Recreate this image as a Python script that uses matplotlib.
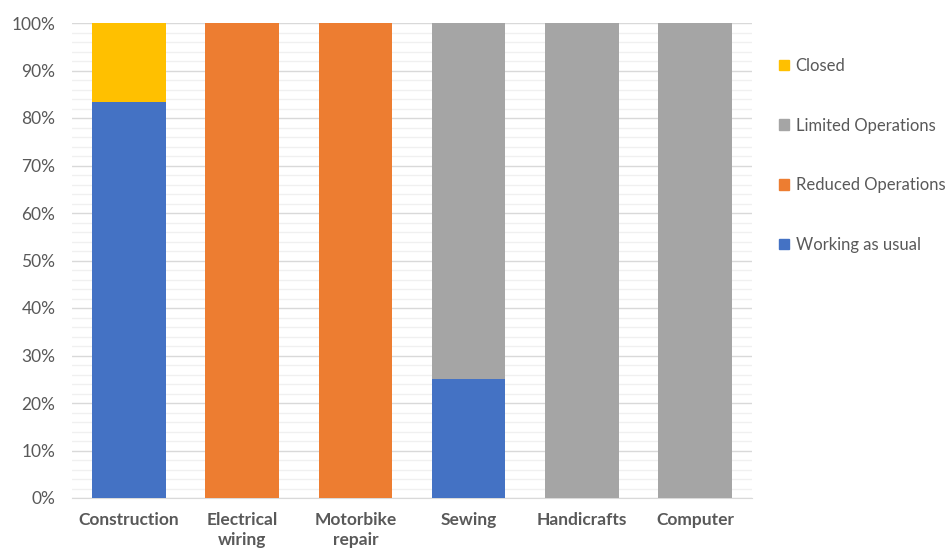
import numpy as np
import matplotlib.pyplot as plt
from matplotlib.ticker import MultipleLocator, PercentFormatter
from matplotlib.patches import Patch

# Share of businesses per trade (percent)
trades = ["Construction", "Electrical\nwiring", "Motorbike\nrepair", "Sewing", "Handicrafts", "Computer"]
working = [83.3, 0, 0, 25, 0, 0]
reduced = [0, 100, 100, 0, 0, 0]
limited = [0, 0, 0, 75, 100, 100]
closed = [16.7, 0, 0, 0, 0, 0]

series_names = ["Working as usual", "Reduced Operations", "Limited Operations", "Closed"]
series_colors = ["#4472C4", "#ED7D31", "#A5A5A5", "#FFC000"]

plt.rcParams['font.family'] = ['Lato', 'DejaVu Sans']

fig = plt.figure(figsize=(9.53, 5.56), dpi=100)
ax = fig.add_axes([72 / 953, 1 - 498 / 556, 680 / 953, 475 / 556])

x = np.arange(len(trades))
bottom = np.zeros(len(trades))
for vals, name, col in zip([working, reduced, limited, closed], series_names, series_colors):
    vals = np.asarray(vals, dtype=float)
    ax.bar(x, vals, width=0.65, bottom=bottom, color=col, label=name, zorder=3)
    bottom += vals

ax.set_xlim(-0.5, len(trades) - 0.5)
ax.set_ylim(0, 100)
ax.yaxis.set_major_locator(MultipleLocator(10))
ax.yaxis.set_minor_locator(MultipleLocator(2))
ax.yaxis.set_major_formatter(PercentFormatter(decimals=0))
ax.grid(axis='y', which='major', color='#D9D9D9', linewidth=1.0, zorder=0)
ax.grid(axis='y', which='minor', color='#F0F0F0', linewidth=1.0, zorder=0)

for s in ['top', 'right', 'left']:
    ax.spines[s].set_visible(False)
ax.spines['bottom'].set_color('#D9D9D9')
ax.tick_params(axis='both', which='both', length=0)
ax.tick_params(axis='y', labelsize=12.5, labelcolor='#595959', pad=12)

ax.set_xticks(x)
ax.set_xticklabels(trades, fontsize=12.5, fontweight='bold', color='#595959', linespacing=1.3)
ax.tick_params(axis='x', pad=10)

handles = [Patch(color=c) for c in series_colors][::-1]
labels = series_names[::-1]
fig.legend(handles, labels, loc='upper left', bbox_to_anchor=(764 / 953, 1 - 43 / 556),
           frameon=False, fontsize=12, labelcolor='#595959', handlelength=0.6,
           handleheight=0.6, handletextpad=0.4, labelspacing=2.62)

fig.savefig("out.png", dpi=100)
